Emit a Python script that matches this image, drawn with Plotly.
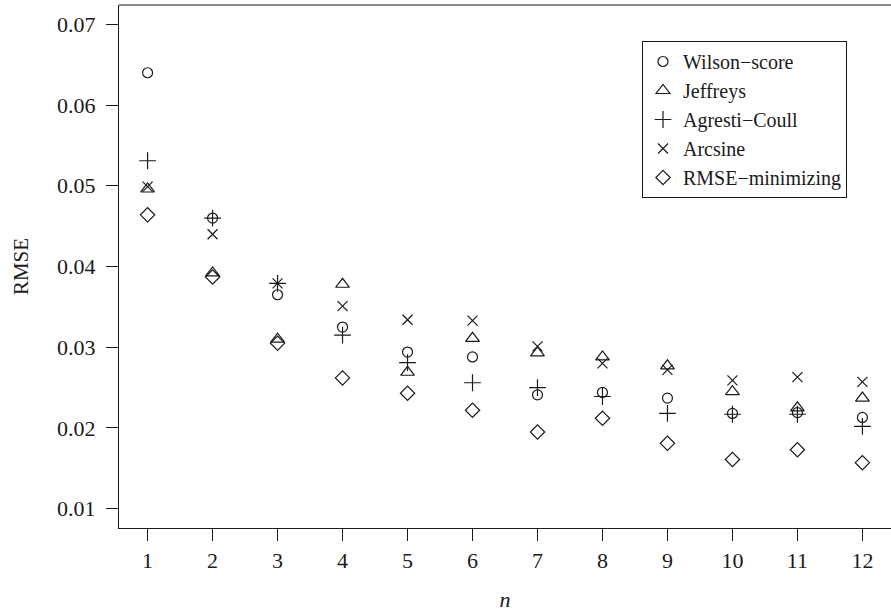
import plotly.graph_objects as go

n = list(range(1, 13))
wilson = [0.0640, 0.0460, 0.0365, 0.0325, 0.0294, 0.0288, 0.0241, 0.0244, 0.0237, 0.0218, 0.0219, 0.0213]
jeffreys = [0.0496, 0.0392, 0.0310, 0.0378, 0.0269, 0.0311, 0.0293, 0.0288, 0.0277, 0.0245, 0.0225, 0.0237]
agresti = [0.0531, 0.0460, 0.0379, 0.0315, 0.0281, 0.0256, 0.0250, 0.0239, 0.0218, 0.0217, 0.0217, 0.0202]
arcsine = [0.0499, 0.0440, 0.0379, 0.0351, 0.0334, 0.0333, 0.0301, 0.0280, 0.0272, 0.0259, 0.0263, 0.0257]
rmsemin = [0.0464, 0.0387, 0.0305, 0.0262, 0.0243, 0.0222, 0.0195, 0.0212, 0.0181, 0.0161, 0.0173, 0.0157]

series = [
    ("Wilson\u2212score", wilson, "circle-open", 10),
    ("Jeffreys", jeffreys, "triangle-up-open", 12),
    ("Agresti\u2212Coull", agresti, "cross-thin-open", 12),
    ("Arcsine", arcsine, "x-thin-open", 10),
    ("RMSE\u2212minimizing", rmsemin, "diamond-open", 11),
]

ink = "#1a1a1a"
font = "'Liberation Serif', 'Times New Roman', Times, serif"

fig = go.Figure()
for name, vals, sym, sz in series:
    fig.add_trace(go.Scatter(
        x=n, y=vals, mode="markers", name=name,
        marker=dict(symbol=sym, size=sz, color=ink, line=dict(width=1.2, color=ink)),
    ))

fig.update_layout(
    width=891, height=613,
    margin=dict(l=119, r=0, t=5, b=85),
    paper_bgcolor="white", plot_bgcolor="white",
    font=dict(family=font, size=22, color=ink),
    showlegend=True,
    legend=dict(
        x=(642 - 119) / 772, y=1 - (41 - 5) / 523, xanchor="left", yanchor="top",
        bordercolor=ink, borderwidth=1, bgcolor="white",
        font=dict(family=font, size=20, color=ink),
        itemwidth=30, tracegroupgap=0,
    ),
)
fig.update_xaxes(
    range=[0.56, 12.44], tickmode="array", tickvals=n, ticktext=[str(v) for v in n],
    showgrid=False, zeroline=False, showline=True, linecolor=ink, linewidth=1.2,
    ticks="outside", ticklen=12, tickwidth=1.2, tickcolor=ink,
    title=dict(text="<i>n</i>", font=dict(family=font, size=22), standoff=20),
    tickfont=dict(family=font, size=22), ticklabelstandoff=0,
)
fig.update_yaxes(
    range=[0.00761, 0.07239], tickmode="array",
    tickvals=[0.01, 0.02, 0.03, 0.04, 0.05, 0.06, 0.07],
    ticktext=["0.01", "0.02", "0.03", "0.04", "0.05", "0.06", "0.07"],
    showgrid=False, zeroline=False, showline=True, linecolor=ink, linewidth=1.2,
    ticks="outside", ticklen=12, tickwidth=1.2, tickcolor=ink,
    title=dict(text="RMSE", font=dict(family=font, size=21), standoff=22),
    tickfont=dict(family=font, size=22), ticklabelstandoff=6,
)
fig.add_shape(type="line", xref="paper", yref="paper", x0=0, x1=1, y0=1, y1=1,
              line=dict(color=ink, width=1.2))

fig.write_html("out.html")
